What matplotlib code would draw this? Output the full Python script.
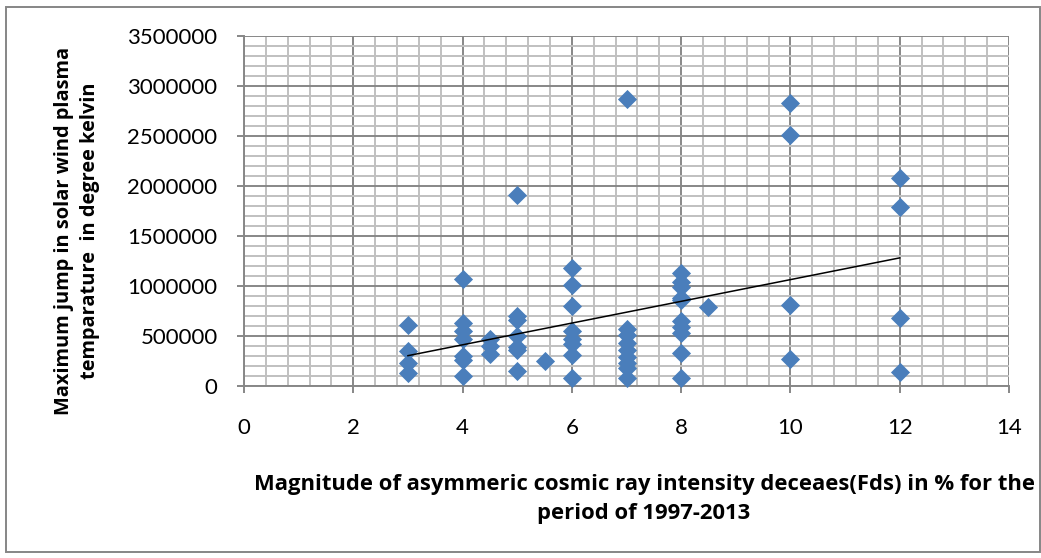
import matplotlib
matplotlib.use('Agg')
import matplotlib.pyplot as plt
import numpy as np
from matplotlib.patches import Rectangle
from matplotlib.ticker import MultipleLocator, FuncFormatter

plt.rcParams.update({
    'font.family': ['Lato', 'DejaVu Sans'],
    'font.size': 16,
})

# Fd magnitude (%) and temperature jump (K)
fd_mag = ([3] * 4 + [4] * 7 + [4.5] * 3 + [5] * 7 + [5.5] + [6] * 8
          + [7] * 9 + [8] * 10 + [8.5] + [10] * 4 + [12] * 4)
temp_jump = [
    610000, 350000, 230000, 135000,
    1070000, 630000, 550000, 470000, 300000, 260000, 100000,
    470000, 400000, 320000,
    1910000, 700000, 660000, 500000, 390000, 360000, 150000,
    250000,
    1180000, 1010000, 800000, 550000, 470000, 420000, 310000, 80000,
    2870000, 570000, 510000, 430000, 360000, 290000, 230000, 180000, 80000,
    1130000, 1040000, 990000, 880000, 860000, 650000, 590000, 530000,
    330000, 80000,
    790000,
    2830000, 2510000, 810000, 270000,
    2080000, 1790000, 680000, 140000,
]

x_label = ('Magnitude of asymmeric cosmic ray intensity deceaes(Fds) in % for the\n'
           'period of 1997-2013')
y_label = 'Maximum jump in solar wind plasma\ntemparature  in degree kelvin'

x = np.array(fd_mag, dtype=float)
y = np.array(temp_jump, dtype=float)

W, H = 1041, 558
fig = plt.figure(figsize=(W / 100, H / 100), dpi=100)
ax = fig.add_axes([244 / W, 1 - 386 / H, (1009 - 244) / W, (386 - 36) / H])

ax.set_xlim(0, 14)
ax.set_ylim(0, 3500000)
ax.xaxis.set_major_locator(MultipleLocator(2))
ax.xaxis.set_minor_locator(MultipleLocator(0.4))
ax.yaxis.set_major_locator(MultipleLocator(500000))
ax.yaxis.set_minor_locator(MultipleLocator(100000))
ax.yaxis.set_major_formatter(FuncFormatter(lambda v, _: f'{int(v)}'))

ax.grid(which='minor', color='#c0c0c0', linewidth=1.4, zorder=0)
ax.grid(which='major', color='#878787', linewidth=1.4, zorder=0.5)
ax.set_axisbelow(True)

for side in ['top', 'right']:
    ax.spines[side].set_visible(False)
for side in ['left', 'bottom']:
    ax.spines[side].set_color('#878787')
    ax.spines[side].set_linewidth(1.4)

ax.tick_params(which='major', length=5, width=1.4, color='#878787',
               labelsize=16, pad=14)
ax.tick_params(which='minor', length=0)
ax.tick_params(axis='x', pad=18)

ax.scatter(x, y, marker='D', s=95, color='#4a7ebb', linewidths=0, zorder=3,
           clip_on=False)

# linear trendline
k, b = np.polyfit(x, y, 1)
xt = np.array([x.min(), x.max()])
ax.plot(xt, k * xt + b, color='black', linewidth=1.1, zorder=4)

fig.text(644 / W, 1 - 499 / H, x_label,
         ha='center', va='center', multialignment='center',
         family='Open Sans', fontsize=15.8, fontweight='bold', linespacing=1.45)
fig.text(77 / W, 1 - 231 / H, y_label,
         ha='center', va='center', rotation=90, multialignment='center',
         family='Open Sans', fontsize=14.4, fontweight='bold', linespacing=1.4)

fig.patches.append(Rectangle((6 / W, 6 / H), 1034 / W, 545 / H,
                             transform=fig.transFigure, fill=False,
                             edgecolor='#868686', linewidth=1.4))

fig.savefig('out.png', dpi=100)
